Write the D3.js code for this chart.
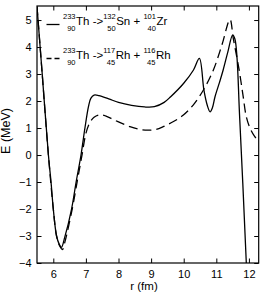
<!DOCTYPE html>
<html>
<head>
<meta charset="utf-8">
<script src="https://cdn.jsdelivr.net/npm/d3@7"></script>
<style>
  body { margin: 0; background: #fff; }
  text { font-family: "Liberation Sans", Arial, sans-serif; fill: #000; }
</style>
</head>
<body>
<svg id="chart" width="266" height="300"></svg>
<script>
// Th-233 -> Sn-132 + Zr-101 (solid)
const rSn = [5.5, 5.66, 5.85, 5.93, 6.0, 6.1, 6.18, 6.25, 6.35, 6.56, 6.7, 6.85, 6.97, 7.08, 7.15, 7.25,
  7.4, 7.7, 8.0, 8.4, 8.8, 9.1, 9.4, 9.6, 10.0, 10.3, 10.48, 10.62, 10.72, 10.81, 10.88, 10.96,
  11.1, 11.21, 11.35, 11.5, 11.57, 11.72, 11.92, 11.96];
const eSn = [5.5, 3.0, 0.0, -1.0, -2.0, -3.0, -3.3, -3.42, -3.05, -2.0, -1.0, 0.0, 1.0, 1.8, 2.1, 2.22,
  2.2, 2.08, 1.95, 1.84, 1.78, 1.79, 1.95, 2.16, 2.66, 3.15, 3.58, 2.4, 1.85, 1.6, 1.75, 2.16,
  2.7, 3.15, 3.8, 4.44, 4.3, 1.3, -4.0, -5.0];

// Th-233 -> Rh-117 + Rh-116 (dashed)
const rRh = [5.5, 5.66, 5.85, 6.0, 6.1, 6.2, 6.28, 6.36, 6.58, 6.73, 6.88, 7.0, 7.12, 7.25, 7.43,
  7.6, 7.9, 8.35, 8.65, 8.9, 9.15, 9.37, 9.7, 9.99, 10.29, 10.6, 10.91, 11.17, 11.42,
  11.52, 11.7, 11.82, 11.92, 12.05, 12.18, 12.3];
const eRh = [5.5, 3.0, 0.0, -2.0, -3.0, -3.38, -3.5, -3.2, -2.0, -1.0, 0.0, 0.8, 1.2, 1.4, 1.49,
  1.45, 1.28, 1.05, 0.95, 0.92, 0.95, 1.05, 1.25, 1.48, 1.85, 2.4, 3.15, 4.07, 5.02,
  4.32, 3.15, 2.2, 1.42, 0.95, 0.68, 0.52];

const xTicks = [6, 7, 8, 9, 10, 11, 12];
const yTicks = [-4, -3, -2, -1, 0, 1, 2, 3, 4, 5];

const svg = d3.select('#chart');
const margin = {top: 6, right: 7.3, bottom: 37, left: 37};
const width = 266 - margin.left - margin.right;
const height = 300 - margin.top - margin.bottom;

const x = d3.scaleLinear().domain([5.5, 12.3]).range([0, width]);
const y = d3.scaleLinear().domain([-4, 5.52]).range([height, 0]);

const g = svg.append('g')
  .attr('transform', 'translate(' + margin.left + ',' + margin.top + ')');

g.append('clipPath').attr('id', 'clip')
  .append('rect').attr('width', width).attr('height', height);

// axes, ticks drawn inward on all four sides
const tick = 4.5;
const fmt = d => d < 0 ? '\u2212' + Math.abs(d) : String(d);
g.append('g')
  .call(d3.axisLeft(y).tickValues(yTicks).tickFormat(fmt).tickSizeInner(-tick).tickSizeOuter(0).tickPadding(5.5));
g.append('g').attr('transform', 'translate(0,' + height + ')')
  .call(d3.axisBottom(x).tickValues(xTicks).tickFormat(fmt).tickSizeInner(-tick).tickSizeOuter(0).tickPadding(7.5));
g.append('g').call(d3.axisTop(x).tickValues(xTicks).tickSizeInner(-tick).tickSizeOuter(0).tickFormat(''));
g.append('g').attr('transform', 'translate(' + width + ',0)')
  .call(d3.axisRight(y).tickValues(yTicks).tickSizeInner(-tick).tickSizeOuter(0).tickFormat(''));

g.selectAll('.domain').remove();
g.selectAll('.tick line').attr('stroke', '#000').attr('stroke-width', 1);
g.selectAll('.tick text').attr('font-size', 11).attr('font-family', '"Liberation Sans", Arial, sans-serif');

g.append('rect')
  .attr('width', width).attr('height', height)
  .attr('fill', 'none').attr('stroke', '#000').attr('stroke-width', 1.2);

// curves
const line = d3.line()
  .x(d => x(d[0]))
  .y(d => y(d[1]))
  .curve(d3.curveCatmullRom.alpha(0.5));

const plot = g.append('g').attr('clip-path', 'url(#clip)');

plot.append('path')
  .datum(d3.zip(rRh, eRh))
  .attr('d', line)
  .attr('fill', 'none').attr('stroke', '#000').attr('stroke-width', 1.3)
  .attr('stroke-dasharray', '9,5');

plot.append('path')
  .datum(d3.zip(rSn, eSn))
  .attr('d', line)
  .attr('fill', 'none').attr('stroke', '#000').attr('stroke-width', 1.3);

// axis titles
svg.append('text')
  .attr('transform', 'translate(10,131) rotate(-90)')
  .attr('text-anchor', 'middle')
  .attr('font-size', 12.5)
  .text('E (MeV)');

svg.append('text')
  .attr('x', 144).attr('y', 290)
  .attr('text-anchor', 'middle')
  .attr('font-size', 11.5)
  .text('r (fm)');

// legend
function nuclide(row, x0, A, Z, sym) {
  const sup = row.append('text').attr('y', -6).attr('font-size', 7.5).text(A);
  const sub = row.append('text').attr('y', 6).attr('font-size', 7.5).text(Z);
  const w = Math.max(sup.node().getComputedTextLength(), sub.node().getComputedTextLength());
  sup.attr('text-anchor', 'end').attr('x', x0 + w);
  sub.attr('text-anchor', 'end').attr('x', x0 + w);
  const main = row.append('text').attr('x', x0 + w + 0.5).attr('font-size', 11.5).text(sym);
  return x0 + w + 0.5 + main.node().getComputedTextLength();
}

function plain(row, x0, s) {
  const t = row.append('text').attr('x', x0).attr('font-size', 11.5).attr('xml:space', 'preserve').text(s);
  return x0 + t.node().getComputedTextLength();
}

const legendRows = [
  {y: 25, dash: null, parts: [['233', '90', 'Th'], ' ->', ['132', '50', 'Sn'], ' + ', ['101', '40', 'Zr']]},
  {y: 59, dash: '5,3', parts: [['233', '90', 'Th'], ' ->', ['117', '45', 'Rh'], ' + ', ['116', '45', 'Rh']]}
];

legendRows.forEach(function(r) {
  const row = svg.append('g').attr('transform', 'translate(0,' + r.y + ')');
  row.append('line')
    .attr('x1', 46.5).attr('x2', 59.5).attr('y1', -0.5).attr('y2', -0.5)
    .attr('stroke', '#000').attr('stroke-width', 1.3)
    .attr('stroke-dasharray', r.dash);
  let cx = 63;
  r.parts.forEach(function(p) {
    cx = typeof p === 'string' ? plain(row, cx, p) : nuclide(row, cx, p[0], p[1], p[2]);
  });
});
</script>
</body>
</html>
